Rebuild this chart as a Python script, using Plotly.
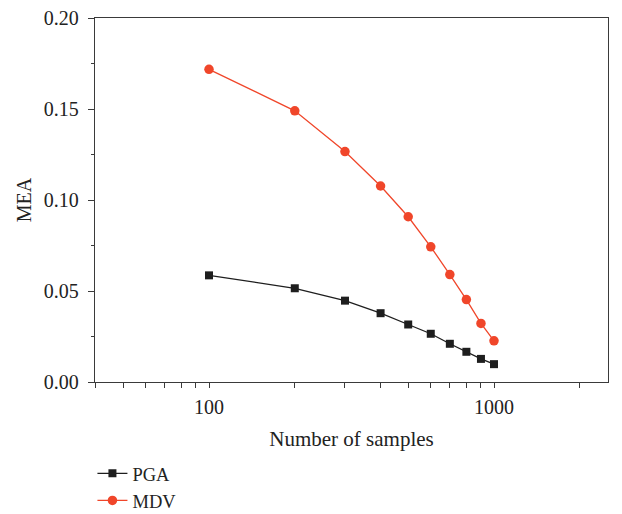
import plotly.graph_objects as go

samples = [100, 200, 300, 400, 500, 600, 700, 800, 900, 1000]
pga = [0.0586, 0.0515, 0.0447, 0.0378, 0.0316, 0.0265, 0.0210, 0.0166, 0.0127, 0.0098]
mdv = [0.1718, 0.1490, 0.1266, 0.1077, 0.0908, 0.0743, 0.0590, 0.0453, 0.0322, 0.0226]

x_tickvals = [40, 50, 60, 70, 80, 90, 100, 200, 300, 400, 500, 600, 700, 800, 900, 1000, 2000]
x_ticktext = ["", "", "", "", "", "", "100", "", "", "", "", "", "", "", "", "1000", ""]
y_tickvals = [0.00, 0.05, 0.10, 0.15, 0.20]
y_ticktext = ["0.00", "0.05", "0.10", "0.15", "0.20"]

FONT = "Liberation Serif"
BLACK = "#1e1e1e"
RED = "#f0462a"
AX = "#3a3a3a"
TXT = "#222"

fig = go.Figure()
fig.add_trace(go.Scatter(x=samples, y=pga, name="PGA", mode="lines+markers",
                         line=dict(color=BLACK, width=1.3),
                         marker=dict(symbol="square", size=8, color=BLACK)))
fig.add_trace(go.Scatter(x=samples, y=mdv, name="MDV", mode="lines+markers",
                         line=dict(color=RED, width=1.3),
                         marker=dict(symbol="circle", size=9.5, color=RED)))

fig.update_layout(
    width=622, height=514,
    margin=dict(l=95, r=14, t=18, b=132, autoexpand=False),
    paper_bgcolor="white", plot_bgcolor="white",
    font=dict(family=FONT, size=20, color=TXT),
    showlegend=True,
    legend=dict(x=-0.005, y=-0.2, xanchor="left", yanchor="top",
                font=dict(family=FONT, size=18.5, color=TXT),
                tracegroupgap=0, itemwidth=30, bgcolor="rgba(0,0,0,0)"),
    xaxis=dict(type="log", range=[1.6, 3.4], automargin=False,
               tickmode="array", tickvals=x_tickvals, ticktext=x_ticktext,
               ticks="outside", ticklen=5, tickwidth=1.2, tickcolor=AX,
               showline=True, linecolor=AX, linewidth=1.3, mirror=True,
               showgrid=False, zeroline=False, ticklabelstandoff=2,
               tickfont=dict(family=FONT, size=20, color=TXT),
               title=dict(text="Number of samples", font=dict(family=FONT, size=21, color=TXT), standoff=14)),
    yaxis=dict(range=[0, 0.2], automargin=False,
               tickmode="array", tickvals=y_tickvals, ticktext=y_ticktext,
               ticks="outside", ticklen=6, tickwidth=1.2, tickcolor=AX,
               minor=dict(tickvals=[0.025, 0.075, 0.125, 0.175], ticks="outside", ticklen=3, tickcolor=AX, tickwidth=1.2),
               showline=True, linecolor=AX, linewidth=1.3, mirror=True,
               showgrid=False, zeroline=False, ticklabelstandoff=5,
               tickfont=dict(family=FONT, size=20, color=TXT),
               title=dict(text="MEA", font=dict(family=FONT, size=20, color=TXT), standoff=6)),
)

fig.write_html("out.html")
